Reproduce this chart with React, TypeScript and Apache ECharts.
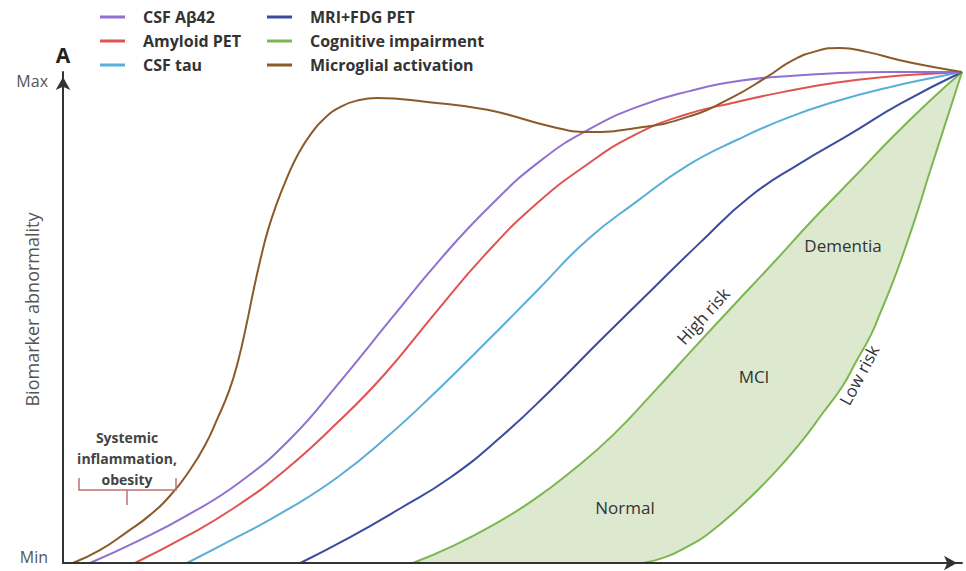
import React, { useEffect, useRef } from "react";
import * as echarts from "echarts";

// Stage axis (0..100) and abnormality (0 = Min, 100 = Max)
const csfAbeta42: [number, number][] = [
  [3.0, 0], [8.6, 4.7], [14.1, 10.0], [19.7, 16.5], [25.3, 25.3], [30.8, 36.9],
  [36.4, 49.5], [41.9, 61.7], [47.5, 72.7], [53.1, 81.9], [58.6, 88.4], [64.2, 93.1],
  [69.7, 96.1], [75.3, 98.2], [80.9, 99.2], [86.4, 99.8], [92.0, 100], [100, 100],
];
const amyloidPet: [number, number][] = [
  [8.0, 0], [13.6, 5.3], [19.1, 11.3], [24.7, 18.9], [30.3, 28.2], [35.8, 38.5],
  [41.4, 50.9], [46.9, 62.7], [52.5, 72.9], [58.1, 80.9], [63.6, 87.2], [69.2, 91.3],
  [74.7, 93.8], [80.3, 96.0], [85.9, 97.8], [91.4, 99.0], [97.0, 99.7], [100, 100],
];
const csfTau: [number, number][] = [
  [13.8, 0], [19.4, 5.3], [24.9, 10.8], [30.5, 17.4], [36.0, 25.6], [41.6, 35.1],
  [47.2, 45.2], [52.7, 55.4], [58.3, 65.8], [63.8, 73.6], [69.4, 80.9], [75.0, 86.2],
  [80.5, 90.6], [86.1, 94.1], [91.7, 96.8], [97.2, 99.0], [100, 100],
];
const mriFdgPet: [number, number][] = [
  [26.4, 0], [31.9, 5.2], [37.5, 11.1], [43.0, 17.3], [48.6, 25.5], [54.2, 35.1],
  [59.7, 45.2], [65.3, 55.3], [70.9, 65.3], [76.4, 74.6], [82.0, 81.4], [87.5, 87.3],
  [93.1, 93.5], [100, 100],
];
const cognitiveHighRisk: [number, number][] = [
  [38.9, 0], [43.4, 3.5], [47.8, 7.7], [52.3, 12.8], [56.7, 18.9], [61.2, 26.1],
  [65.6, 34.6], [70.1, 43.6], [74.5, 52.3], [79.0, 61.1], [83.4, 69.9], [87.9, 78.4],
  [92.3, 86.8], [96.4, 94.1], [100, 100],
];
const cognitiveLowRisk: [number, number][] = [
  [64.5, 0], [67.0, 1.2], [69.4, 3.3], [71.6, 5.7], [75.3, 11.4], [79.0, 18.1],
  [82.0, 24.4], [84.5, 30.5], [86.7, 36.0], [88.3, 41.3], [89.8, 46.2], [90.9, 50.9],
  [92.0, 55.8], [93.1, 61.1], [95.0, 71.3], [96.1, 77.8], [97.2, 84.1], [100, 100],
];
const microglial: [number, number][] = [
  [1.1, 0], [4.1, 2.6], [7.1, 6.3], [9.7, 9.8], [12.1, 14.1], [14.1, 18.9],
  [15.8, 24.0], [17.2, 29.5], [18.5, 35.2], [19.5, 41.3], [20.4, 48.5], [21.2, 55.6],
  [22.0, 62.1], [22.8, 67.8], [23.8, 73.3], [24.9, 78.4], [26.1, 83.1], [27.5, 87.2],
  [29.1, 90.6], [31.1, 93.1], [33.0, 94.3], [34.9, 94.7], [40.5, 93.9], [47.2, 92.3],
  [54.5, 88.8], [58.3, 87.8], [63.8, 88.6], [69.4, 90.8], [74.5, 94.9], [78.3, 99.0],
  [81.2, 102.4], [83.9, 104.3], [86.4, 104.9], [89.4, 104.1], [93.1, 102.4], [96.8, 101.0],
  [100, 100],
];

const legendCol1 = ["CSF Aβ42", "Amyloid PET", "CSF tau"];
const legendCol2 = ["MRI+FDG PET", "Cognitive impairment", "Microglial activation"];
const yTickLabels: Record<number, string> = { 0: "Min", 100: "Max" };

const FONT = "'Open Sans', 'DejaVu Sans', sans-serif";
const COLORS = {
  abeta: "#9070d0",
  amyloid: "#e05350",
  tau: "#5aaed8",
  mri: "#3b4b9e",
  cog: "#7cb650",
  cogFill: "#dde9cf",
  micro: "#8b5a2b",
};

export default function App() {
  const ref = useRef<HTMLDivElement>(null);

  useEffect(() => {
    if (!ref.current) return;
    const chart = echarts.init(ref.current, undefined, { renderer: "svg" });

    const lineBase = (name: string, data: [number, number][], color: string, z: number) => ({
      name,
      type: "line",
      data,
      smooth: 0.5,
      showSymbol: false,
      symbol: "none",
      clip: false,
      z,
      color,
      lineStyle: { color, width: 2 },
      emphasis: { disabled: true },
    });

    const legendCommon = {
      orient: "vertical",
      top: 7,
      padding: 0,
      itemGap: 4,
      itemWidth: 25,
      itemHeight: 3,
      icon: "rect",
      selectedMode: false,
      textStyle: {
        fontFamily: FONT,
        fontWeight: "bold",
        fontSize: 16,
        color: "#333",
        lineHeight: 20,
        padding: [0, 0, 0, 13],
      },
    };

    const axisLine = {
      show: true,
      symbol: ["none", "arrow"],
      symbolSize: [11, 13],
      symbolOffset: [0, -5],
      lineStyle: { color: "#333", width: 2 },
    };

    chart.setOption({
      animation: false,
      grid: { left: 63, right: 4, top: 72, bottom: 8, containLabel: false, outerBoundsMode: "none" },
      legend: [
        { ...legendCommon, left: 100, data: legendCol1 },
        { ...legendCommon, left: 267, data: legendCol2 },
      ],
      xAxis: {
        type: "value",
        min: 0,
        max: 100,
        z: 10,
        axisLine,
        axisTick: { show: false },
        axisLabel: { show: false },
        splitLine: { show: false },
      },
      yAxis: {
        type: "value",
        min: 0,
        max: 100,
        interval: 100,
        z: 10,
        axisLine,
        axisTick: { show: false },
        splitLine: { show: false },
        name: "Biomarker abnormality",
        nameLocation: "middle",
        nameRotate: 90,
        nameGap: 22,
        nameMoveOverlap: false,
        nameTextStyle: { fontFamily: FONT, fontSize: 18, color: "#555", padding: [0, 0, 0, 16] },
        axisLabel: {
          margin: 15,
          formatter: (v: number) =>
            v === 0 ? `{min|${yTickLabels[0]}}` : v === 100 ? `{max|${yTickLabels[100]}}` : "",
          rich: {
            min: { fontFamily: FONT, fontSize: 16, color: "#555", padding: [0, 0, 12, 0] },
            max: { fontFamily: FONT, fontSize: 16, color: "#555", padding: [18, 0, 0, 0] },
          },
        },
      },
      series: [
        {
          ...lineBase("Cognitive impairment", cognitiveHighRisk, COLORS.cog, 2),
          areaStyle: { color: COLORS.cogFill, opacity: 1 },
        },
        {
          ...lineBase("Cognitive impairment (low risk)", cognitiveLowRisk, COLORS.cog, 3),
          areaStyle: { color: "#ffffff", opacity: 1 },
        },
        lineBase("MRI+FDG PET", mriFdgPet, COLORS.mri, 4),
        lineBase("CSF tau", csfTau, COLORS.tau, 4),
        lineBase("Amyloid PET", amyloidPet, COLORS.amyloid, 4),
        lineBase("CSF Aβ42", csfAbeta42, COLORS.abeta, 4),
        lineBase("Microglial activation", microglial, COLORS.micro, 5),
      ],
      graphic: [
        {
          type: "text",
          x: 63,
          y: 55,
          z: 20,
          style: { text: "A", fontFamily: FONT, fontWeight: "bold", fontSize: 21, fill: "#222", align: "center", verticalAlign: "middle" },
        },
        {
          type: "text",
          x: 625,
          y: 507,
          z: 20,
          style: { text: "Normal", fontFamily: FONT, fontSize: 17, fill: "#333", align: "center", verticalAlign: "middle" },
        },
        {
          type: "text",
          x: 754,
          y: 376,
          z: 20,
          style: { text: "MCI", fontFamily: FONT, fontSize: 17, fill: "#333", align: "center", verticalAlign: "middle" },
        },
        {
          type: "text",
          x: 843,
          y: 245,
          z: 20,
          style: { text: "Dementia", fontFamily: FONT, fontSize: 17, fill: "#333", align: "center", verticalAlign: "middle" },
        },
        {
          type: "text",
          x: 703,
          y: 316,
          z: 20,
          rotation: (48 * Math.PI) / 180,
          style: { text: "High risk", fontFamily: FONT, fontSize: 17, fill: "#333", align: "center", verticalAlign: "middle" },
        },
        {
          type: "text",
          x: 859,
          y: 375,
          z: 20,
          rotation: (62 * Math.PI) / 180,
          style: { text: "Low risk", fontFamily: FONT, fontSize: 17, fill: "#333", align: "center", verticalAlign: "middle" },
        },
        {
          type: "text",
          x: 127,
          y: 458,
          z: 20,
          style: {
            text: "Systemic\ninflammation,\nobesity",
            fontFamily: FONT,
            fontWeight: "bold",
            fontSize: 14,
            lineHeight: 21,
            fill: "#444",
            align: "center",
            verticalAlign: "middle",
          },
        },
        {
          type: "polyline",
          z: 20,
          shape: { points: [[79, 478], [79, 490], [176, 490], [176, 478]] },
          style: { stroke: "#c07070", lineWidth: 1.5, fill: "none" },
        },
        {
          type: "line",
          z: 20,
          shape: { x1: 127, y1: 490, x2: 127, y2: 505 },
          style: { stroke: "#c07070", lineWidth: 1.5 },
        },
      ],
    });

    return () => chart.dispose();
  }, []);

  return (
    <div
      ref={ref}
      style={{ position: "absolute", left: 0, top: 0, width: 966, height: 571, background: "#fff" }}
    />
  );
}
